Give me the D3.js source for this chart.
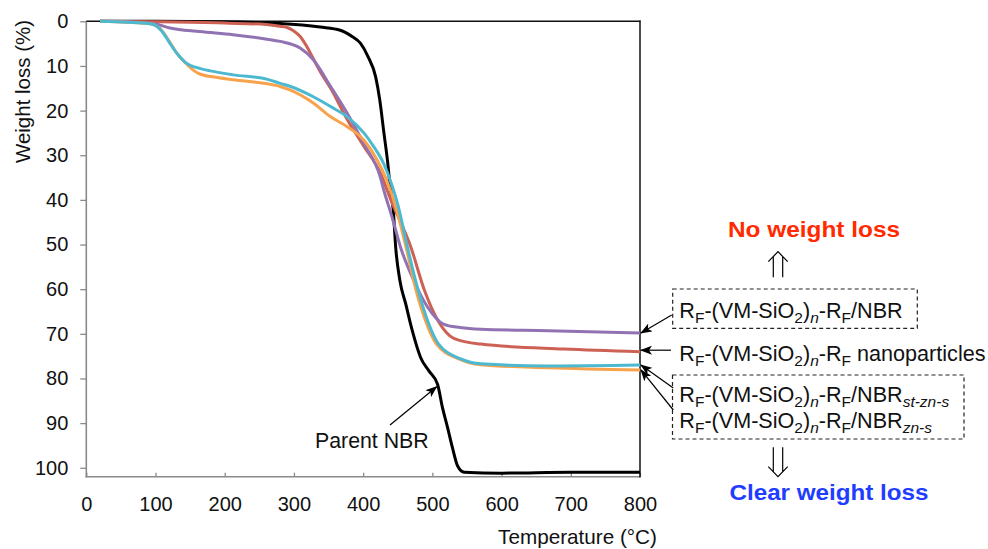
<!DOCTYPE html>
<html>
<head>
<meta charset="utf-8">
<script src="https://cdn.jsdelivr.net/npm/d3@7"></script>
<style>
  body { margin: 0; background: #fff; }
  svg text { font-family: "Liberation Sans", Arial, Helvetica, sans-serif; fill: #111; }
</style>
</head>
<body>
<div class="chart"></div>
<script>
// TGA curves: weight loss (%) against temperature (°C)

var xTicks = [0, 100, 200, 300, 400, 500, 600, 700, 800];
var yTicks = [0, 10, 20, 30, 40, 50, 60, 70, 80, 90, 100];

// [temperature, weight loss]
var parentNBR = [[20, 0], [100, 0], [200, 0.1], [250, 0.3], [280, 0.5], [338, 1.3], [367, 2], [384, 3.4],
  [396, 4.9], [407, 7.9], [418, 12.4], [424, 17.6], [430, 25], [435, 31], [439, 37], [443.5, 42.3],
  [447, 50.6], [453, 58], [461.5, 63.3], [471, 69.3], [483, 75.3], [495, 78.3], [507.5, 81.3],
  [514.7, 86.6], [522, 91], [529, 95.5], [536.5, 99.6], [546, 101], [600, 101.2], [700, 101], [800, 101]];

var rfNanoparticles = [[20, 0], [100, 0.1], [150, 0.2], [200, 0.4], [260, 0.7], [280, 1.1], [292, 1.5],
  [300, 2.2], [309, 3.4], [318, 5.5], [328, 8.4], [340, 11.8], [353, 15], [377, 22], [401, 28], [425, 34],
  [440, 40], [469, 50.6], [488, 60], [508, 67], [531, 71], [570, 72.3], [690, 73.4], [800, 74]];

var rfNBR = [[20, 0], [80, 0.3], [100, 0.6], [121, 1.5], [164, 2.3], [212, 3], [261, 4], [280, 4.5],
  [309, 6], [328, 8.6], [353, 14.6], [377, 20.6], [401, 27.4], [425, 35], [430, 37.9], [442, 44],
  [454, 50.6], [473, 58], [493, 64], [516, 67.8], [540, 68.6], [570, 69], [667, 69.3], [800, 69.8]];

var rfNBRznS = [[20, 0], [60, 0.2], [90, 0.5], [100, 0.9], [110, 2.2], [117, 3.8], [124, 5.5], [131, 7.2],
  [138, 8.5], [146, 9.7], [155, 11], [164, 11.8], [190, 12.6], [212, 13.1], [262, 14], [280, 14.6],
  [295, 15.4], [328, 18.3], [353, 21.4], [377, 23.6], [401, 26.6], [420, 31], [434, 35.6], [447, 41.5],
  [462, 50.6], [476, 60], [490, 67], [506, 72.3], [538, 75.6], [570, 76.9], [667, 77.6], [800, 78.1]];

var rfNBRstZnS = [[20, 0], [60, 0.2], [90, 0.5], [100, 0.9], [108, 2], [115, 3.5], [122, 5.2], [129, 6.8],
  [136, 8.1], [143, 9.2], [152, 10], [165, 10.6], [179, 11.1], [212, 12], [262, 13], [280, 13.9],
  [295, 14.6], [328, 16.9], [353, 19.1], [377, 21.4], [401, 25], [415, 28], [430, 32], [440, 36],
  [450, 41], [464, 50.6], [479, 60], [493, 67], [509, 72.3], [541, 75.6], [570, 76.7], [667, 77.2], [800, 77]];

var seriesList = [
  { data: parentNBR, color: "#000000" },
  { data: rfNanoparticles, color: "#cc6154" },
  { data: rfNBR, color: "#9173b3" },
  { data: rfNBRznS, color: "#f8a24c" },
  { data: rfNBRstZnS, color: "#4cb9d0" }
];

var svgWidth = 988;
var svgHeight = 549;

var svg = d3.select(".chart")
  .append("svg")
  .attr("width", svgWidth)
  .attr("height", svgHeight);

var defs = svg.append("defs");
defs.append("marker")
  .attr("id", "head")
  .attr("markerUnits", "userSpaceOnUse")
  .attr("markerWidth", 12)
  .attr("markerHeight", 9)
  .attr("refX", 11)
  .attr("refY", 4.5)
  .attr("orient", "auto")
  .append("path")
  .attr("d", "M0,0 L12,4.5 L0,9 L3,4.5 z")
  .attr("fill", "#000");

// scales
var xScale = d3.scaleLinear().domain([0, 800]).range([86.3, 640]);
var yScale = d3.scaleLinear().domain([0, 102]).range([21.3, 476.7]);

// axes
var leftAxis = d3.axisLeft(yScale).tickValues(yTicks).tickSize(6).tickPadding(12);
var bottomAxis = d3.axisBottom(xScale).tickValues(xTicks).tickSizeInner(-4).tickSizeOuter(0).tickPadding(20);

var yAxisG = svg.append("g")
  .attr("transform", "translate(86.3,0)")
  .call(leftAxis);

var xAxisG = svg.append("g")
  .attr("transform", "translate(0,476.7)")
  .call(bottomAxis);

[yAxisG, xAxisG].forEach(function (g) {
  g.select(".domain").remove();
  g.selectAll(".tick line").attr("stroke", "#8a8a8a").attr("stroke-width", 1.3);
  g.selectAll(".tick text").attr("font-size", 20).attr("fill", "#111")
    .style("font-family", '"Liberation Sans", Arial, Helvetica, sans-serif');
});

// frame: gray left/bottom axis lines, black top/right border
svg.append("line").attr("x1", 86.3).attr("x2", 86.3).attr("y1", 21.3).attr("y2", 477.5)
  .attr("stroke", "#8a8a8a").attr("stroke-width", 1.6);
svg.append("line").attr("x1", 85.5).attr("x2", 640).attr("y1", 476.7).attr("y2", 476.7)
  .attr("stroke", "#8a8a8a").attr("stroke-width", 1.6);
svg.append("line").attr("x1", 86.3).attr("x2", 640.5).attr("y1", 21.3).attr("y2", 21.3)
  .attr("stroke", "#111").attr("stroke-width", 1.5);
svg.append("line").attr("x1", 640).attr("x2", 640).attr("y1", 20.6).attr("y2", 477.5)
  .attr("stroke", "#111").attr("stroke-width", 1.5);

// curves
var line = d3.line()
  .x(function (d) { return xScale(d[0]); })
  .y(function (d) { return yScale(d[1]); })
  .curve(d3.curveMonotoneX);

svg.append("g").selectAll("path")
  .data(seriesList)
  .enter()
  .append("path")
  .attr("d", function (d) { return line(d.data); })
  .attr("fill", "none")
  .attr("stroke", function (d) { return d.color; })
  .attr("stroke-width", 3)
  .attr("stroke-linejoin", "round");

// axis titles
svg.append("text")
  .attr("transform", "translate(29.5,91.5) rotate(-90)")
  .attr("text-anchor", "middle")
  .attr("font-size", 20.5)
  .text("Weight loss (%)");

svg.append("text")
  .attr("x", 577.5)
  .attr("y", 544)
  .attr("text-anchor", "middle")
  .attr("font-size", 20.7)
  .text("Temperature (°C)");

// Parent NBR annotation
svg.append("text")
  .attr("x", 315)
  .attr("y", 448.3)
  .attr("font-size", 21.3)
  .text("Parent NBR");
svg.append("line")
  .attr("x1", 390).attr("y1", 425)
  .attr("x2", 436.7).attr("y2", 386.7)
  .attr("stroke", "#000").attr("stroke-width", 1.2)
  .attr("marker-end", "url(#head)");

// labels on the right
var base = [{ t: "R" }, { t: "F", sub: true }, { t: "-(VM-SiO" }, { t: "2", sub: true }, { t: ")" },
  { t: "n", sub: true, it: true }, { t: "-R" }, { t: "F", sub: true }];
var labelRows = [
  { parts: base.concat([{ t: "/NBR" }]), y: 318.3 },
  { parts: base.concat([{ t: " nanoparticles" }]), y: 360.5 },
  { parts: base.concat([{ t: "/NBR" }, { t: "st-zn-s", sub: true, it: true }]), y: 402 },
  { parts: base.concat([{ t: "/NBR" }, { t: "zn-s", sub: true, it: true }]), y: 427.5 }
];

labelRows.forEach(function (row) {
  var txt = svg.append("text")
    .attr("x", 679.3)
    .attr("y", row.y)
    .attr("font-size", 21.6);
  var offset = 0;
  row.parts.forEach(function (p) {
    var ts = txt.append("tspan").text(p.t);
    var want = p.sub ? 5 : 0;
    ts.attr("dy", want - offset);
    offset = want;
    if (p.sub) ts.attr("font-size", 15.5);
    if (p.it) ts.attr("font-style", "italic");
  });
});

// dashed boxes
svg.append("rect")
  .attr("x", 672.7).attr("y", 289).attr("width", 244.6).attr("height", 39.3)
  .attr("fill", "none").attr("stroke", "#222").attr("stroke-width", 1.2)
  .attr("stroke-dasharray", "4,3");
svg.append("rect")
  .attr("x", 672.5).attr("y", 375).attr("width", 291.5).attr("height", 64)
  .attr("fill", "none").attr("stroke", "#222").attr("stroke-width", 1.2)
  .attr("stroke-dasharray", "4,3");

// arrows from labels to curve ends
var tipX = xScale(800) + 1;
function lastLoss(s) { return s[s.length - 1][1]; }
var pointers = [
  { from: [671.7, 315], to: [tipX, yScale(lastLoss(rfNBR))] },
  { from: [671, yScale(lastLoss(rfNanoparticles)) - 1.5], to: [tipX, yScale(lastLoss(rfNanoparticles)) - 1.5] },
  { from: [673.3, 388], to: [tipX, yScale(lastLoss(rfNBRstZnS))] },
  { from: [673.3, 410], to: [tipX, yScale(lastLoss(rfNBRznS))] }
];
svg.append("g").selectAll("line")
  .data(pointers)
  .enter()
  .append("line")
  .attr("x1", function (d) { return d.from[0]; })
  .attr("y1", function (d) { return d.from[1]; })
  .attr("x2", function (d) { return d.to[0]; })
  .attr("y2", function (d) { return d.to[1]; })
  .attr("stroke", "#000")
  .attr("stroke-width", 1.2)
  .attr("marker-end", "url(#head)");

// double arrows and verdicts
svg.append("path")
  .attr("d", "M773.3,277.3 V256.7 M782.7,277.3 V256.7 M768.3,261.7 L778,251.7 L787.7,261.7")
  .attr("fill", "none").attr("stroke", "#000").attr("stroke-width", 1.2);
svg.append("path")
  .attr("d", "M773.3,447.3 V471.7 M782.7,447.3 V471.7 M768.3,466.7 L778,476.7 L787.7,466.7")
  .attr("fill", "none").attr("stroke", "#000").attr("stroke-width", 1.2);

svg.append("text")
  .attr("x", 814)
  .attr("y", 236.7)
  .attr("text-anchor", "middle")
  .attr("font-size", 22.5)
  .attr("font-weight", "bold")
  .attr("textLength", 172)
  .attr("lengthAdjust", "spacingAndGlyphs")
  .style("fill", "#ff2a00")
  .text("No weight loss");

svg.append("text")
  .attr("x", 829)
  .attr("y", 500)
  .attr("text-anchor", "middle")
  .attr("font-size", 22.5)
  .attr("font-weight", "bold")
  .attr("textLength", 199)
  .attr("lengthAdjust", "spacingAndGlyphs")
  .style("fill", "#1f3dff")
  .text("Clear weight loss");
</script>
</body>
</html>
